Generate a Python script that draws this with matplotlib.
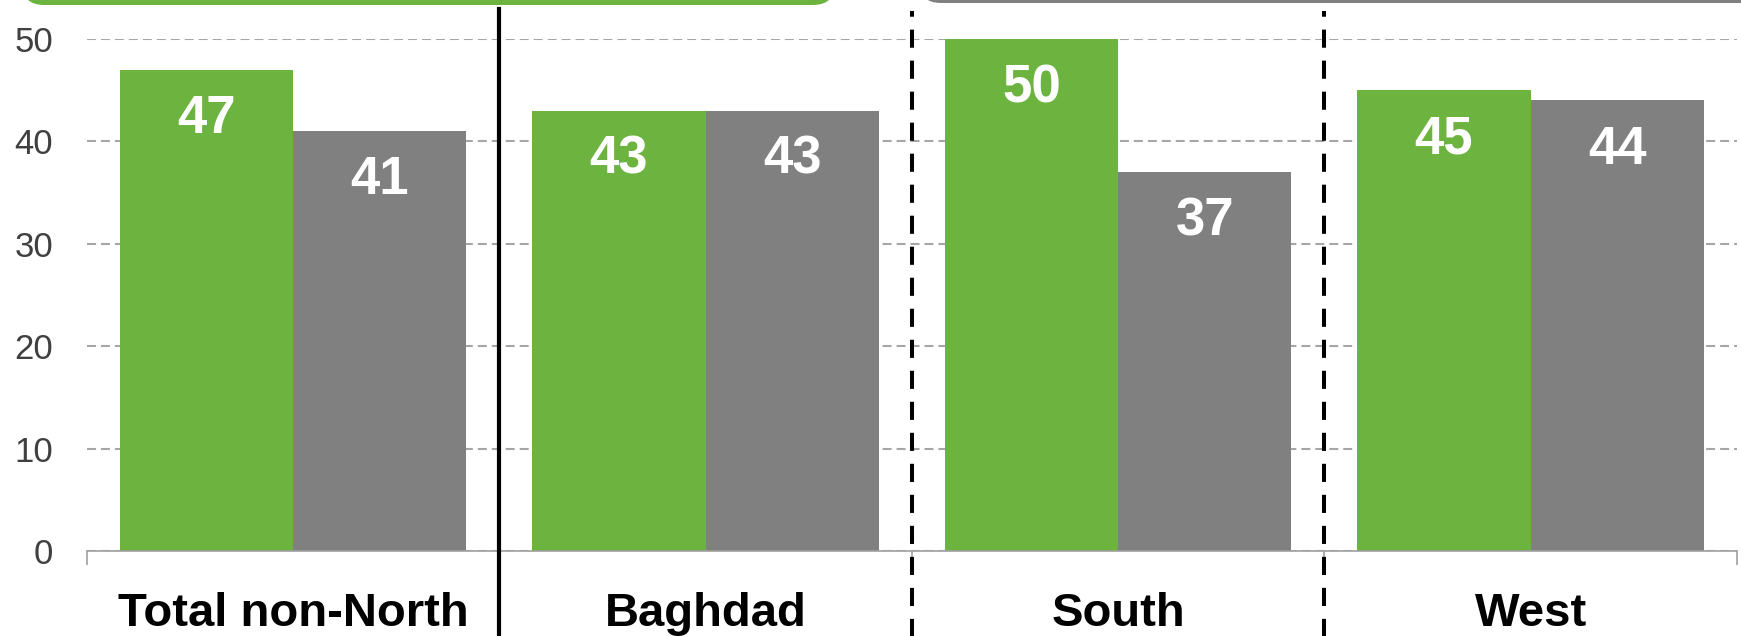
"""Grouped bars by region with header boxes and separators."""

import matplotlib
matplotlib.use('Agg')
import matplotlib.pyplot as plt
from matplotlib.patches import FancyBboxPatch
from matplotlib.lines import Line2D
import numpy as np

categories = ['Total non-North', 'Baghdad', 'South', 'West']
series_green = [47, 43, 50, 45]
series_gray = [41, 43, 37, 44]
y_ticks = [0, 10, 20, 30, 40, 50]

GREEN = '#6db33f'
GRAY = '#808080'

plt.rcParams['font.family'] = ['Liberation Sans', 'DejaVu Sans']

W, H = 1741, 636
fig = plt.figure(figsize=(W / 100, H / 100), dpi=100)
ax = fig.add_axes([86.6 / W, 1 - 551 / H, (1737 - 86.6) / W, (551 - 38.9) / H])

x = np.arange(len(categories))
bw = 0.42
b1 = ax.bar(x - bw / 2, series_green, bw, color=GREEN, zorder=2)
b2 = ax.bar(x + bw / 2, series_gray, bw, color=GRAY, zorder=2)

for bars in (b1, b2):
    for rect in bars:
        v = rect.get_height()
        ax.annotate('{}'.format(int(v)), (rect.get_x() + rect.get_width() / 2, v),
                    xytext=(0, -45.5), textcoords='offset points',
                    ha='center', va='baseline', color='white',
                    fontsize=38, fontweight='bold', zorder=3)

ax.set_xlim(-0.5, len(categories) - 0.5)
ax.set_ylim(0, 50)
ax.set_yticks(y_ticks)
ax.tick_params(axis='y', length=0, pad=24, labelsize=25, labelcolor='#404040')

# group boundary ticks, labels in between
ax.set_xticks(np.arange(-0.5, len(categories), 1.0))
ax.set_xticklabels([])
ax.set_xticks(x, minor=True)
ax.set_xticklabels(categories, minor=True, fontsize=34, fontweight='bold')
ax.tick_params(axis='x', which='major', length=10, color='#a0a0a0', width=1.2)
ax.tick_params(axis='x', which='minor', length=0, pad=29.5)

ax.yaxis.grid(True, linestyle=(0, (4.3, 2.4)), color='#a6a6a6', linewidth=1.5, zorder=0)
ax.set_axisbelow(True)
for s in ('left', 'right', 'top'):
    ax.spines[s].set_visible(False)
ax.spines['bottom'].set_color('#a0a0a0')
ax.spines['bottom'].set_linewidth(1.2)

# separators
trans = ax.get_xaxis_transform()
ax.add_line(Line2D([0.5, 0.5], [-0.17, 1.058], transform=trans, color='black',
                   linewidth=3.0, clip_on=False, zorder=4))
for xv in (1.5, 2.5):
    ax.add_line(Line2D([xv, xv], [-0.17, 1.054], transform=trans, color='black',
                       linewidth=2.9, linestyle=(0, (4.5, 3.2)), clip_on=False, zorder=4))

# header boxes cut off at the top
r = 22
asp = W / H
fig.patches.append(FancyBboxPatch((22 / W, 1 - 5 / H), (835 - 22) / W, 0.2,
                                  boxstyle='round,pad=0,rounding_size={}'.format(r / W),
                                  mutation_aspect=asp, transform=fig.transFigure,
                                  facecolor=GREEN, edgecolor='none'))
fig.patches.append(FancyBboxPatch((919 / W, 1 - 3 / H), 0.6, 0.2,
                                  boxstyle='round,pad=0,rounding_size={}'.format(r / W),
                                  mutation_aspect=asp, transform=fig.transFigure,
                                  facecolor=GRAY, edgecolor='none'))

fig.savefig('out.png', dpi=100)
